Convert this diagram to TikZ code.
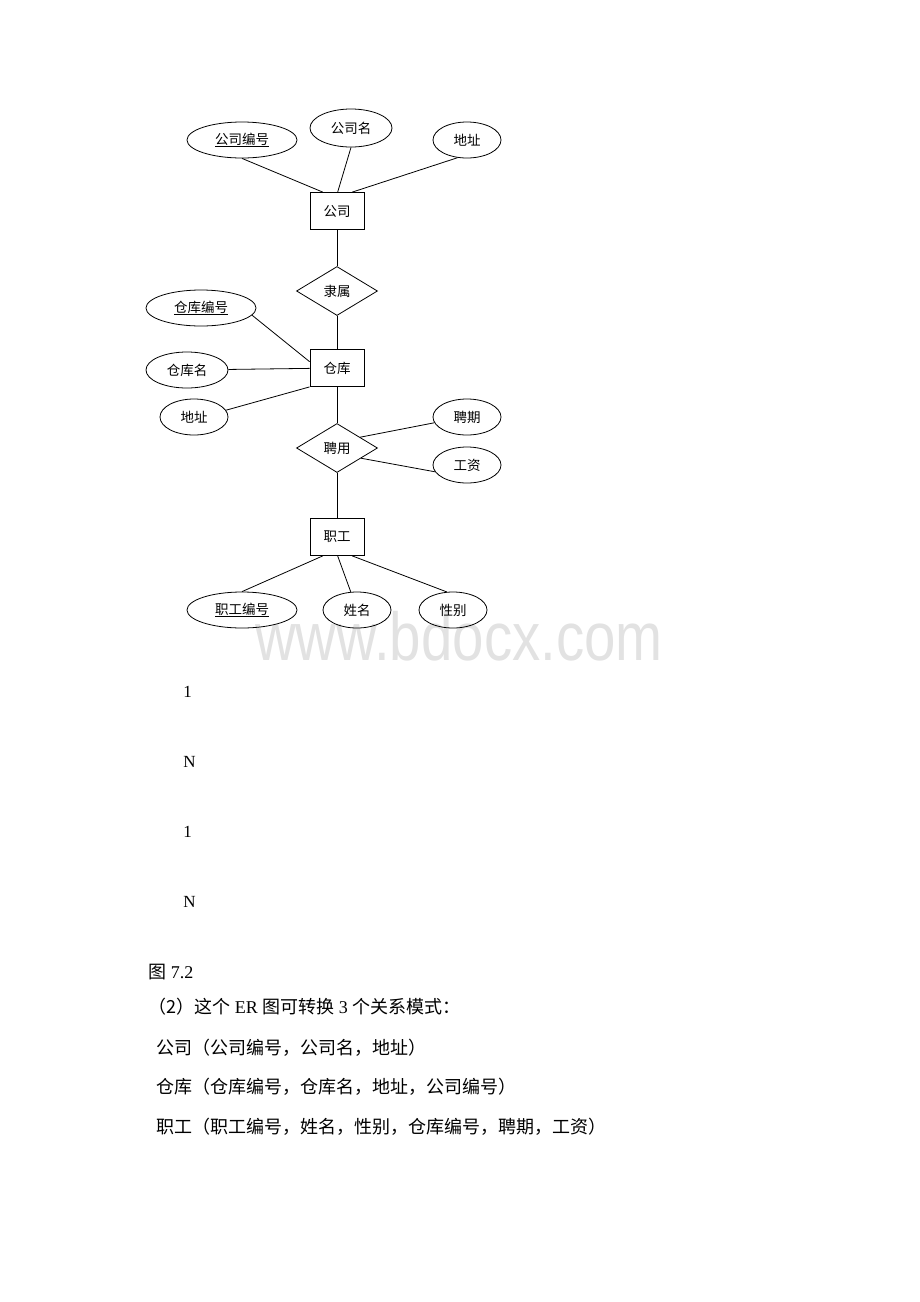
\documentclass[tikz,border=0pt]{standalone}
\usepackage{fontspec}
\setmainfont{Liberation Serif}
\newfontfamily\cjk{Noto Sans CJK SC}
\newfontfamily\wmfont{Liberation Sans}
\usetikzlibrary{shapes.geometric}
\definecolor{W}{RGB}{226, 226, 226}

\tikzset{
  entity/.style={draw, rectangle, minimum width=54pt, minimum height=37pt, inner sep=0pt, font=\cjk\fontsize{13.5}{14}\selectfont},
  attr/.style={draw, ellipse, minimum height=36pt, inner sep=0pt, font=\cjk\fontsize{13.5}{14}\selectfont},
  rel/.style={draw, diamond, aspect=1.65, minimum width=81pt, minimum height=49pt, inner sep=0pt, font=\cjk\fontsize{13.5}{14}\selectfont},
  card/.style={anchor=west, inner sep=0pt, font=\fontsize{17}{17}\selectfont},
  textline/.style={anchor=west, inner sep=0pt, font=\fontsize{18}{18}\selectfont},
}

\begin{document}
\begin{tikzpicture}[x=1pt, y=-1pt, line width=0.8pt]
  \useasboundingbox (0,0) rectangle (920,1302);
  % watermark
  \node[text=W, font=\wmfont\fontsize{68}{68}\selectfont, xscale=0.83, transform shape] (wm) at (459,636) {www.bdocx.com};

  % entities and relations
  \node[entity] (gs) at (337,211) {公司};
  \node[attr, minimum width=110pt] (gsbh) at (242,140) {\underline{公司编号}};
  \node[attr, minimum width=82pt, minimum height=38pt] (gsm) at (351,128) {公司名};
  \node[attr, minimum width=68pt] (dz1) at (467,140) {地址};
  \node[rel] (ls) at (337,291) {隶属};
  \node[entity] (ck) at (337,368) {仓库};
  \node[attr, minimum width=110pt] (ckbh) at (201,308) {\underline{仓库编号}};
  \node[attr, minimum width=82pt] (ckm) at (187,370) {仓库名};
  \node[attr, minimum width=68pt] (dz2) at (194,417) {地址};
  \node[rel] (py) at (337,448) {聘用};
  \node[attr, minimum width=68pt] (pq) at (467,417) {聘期};
  \node[attr, minimum width=68pt] (gz) at (467,465) {工资};
  \node[entity] (zg) at (337,537) {职工};
  \node[attr, minimum width=110pt] (zgbh) at (242,610) {\underline{职工编号}};
  \node[attr, minimum width=68pt] (xm) at (357,610) {姓名};
  \node[attr, minimum width=68pt] (xb) at (453,610) {性别};

  % connectors
  \draw (gsbh.south) -- (gs.127);
  \draw (gsm.south) -- (gs.88);
  \draw (dz1.-118) -- (gs.51);
  \draw (gs) -- (ls);
  \draw (ls) -- (ck);
  \draw (ckbh.-8) -- (ck.167);
  \draw (ckm) -- (ck);
  \draw (dz2.12) -- (ck.south west);
  \draw (ck) -- (py);
  \draw (pq.190) -- (py.25);
  \draw (gz.192) -- (py.-23);
  \draw (py) -- (zg);
  \draw (zg.-127) -- (zgbh.north);
  \draw (zg.-88) -- (xm.109);
  \draw (zg.-51) -- (xb.109);

  % cardinalities
  \node[card] (c1) at (183,692) {1};
  \node[card] (c2) at (183,762) {N};
  \node[card] (c3) at (183,832) {1};
  \node[card] (c4) at (183,902) {N};

  % text below
  \node[textline] (fig) at (148,972) {{\cjk 图} 7.2};
  \node[textline] (t1) at (148,1007) {{\cjk （2）这个} ER {\cjk 图可转换} 3 {\cjk 个关系模式：}};
  \node[textline] (t2) at (156,1048) {\cjk 公司（公司编号，公司名，地址）};
  \node[textline] (t3) at (156,1087) {\cjk 仓库（仓库编号，仓库名，地址，公司编号）};
  \node[textline] (t4) at (156,1127) {\cjk 职工（职工编号，姓名，性别，仓库编号，聘期，工资）};
\end{tikzpicture}
\end{document}
